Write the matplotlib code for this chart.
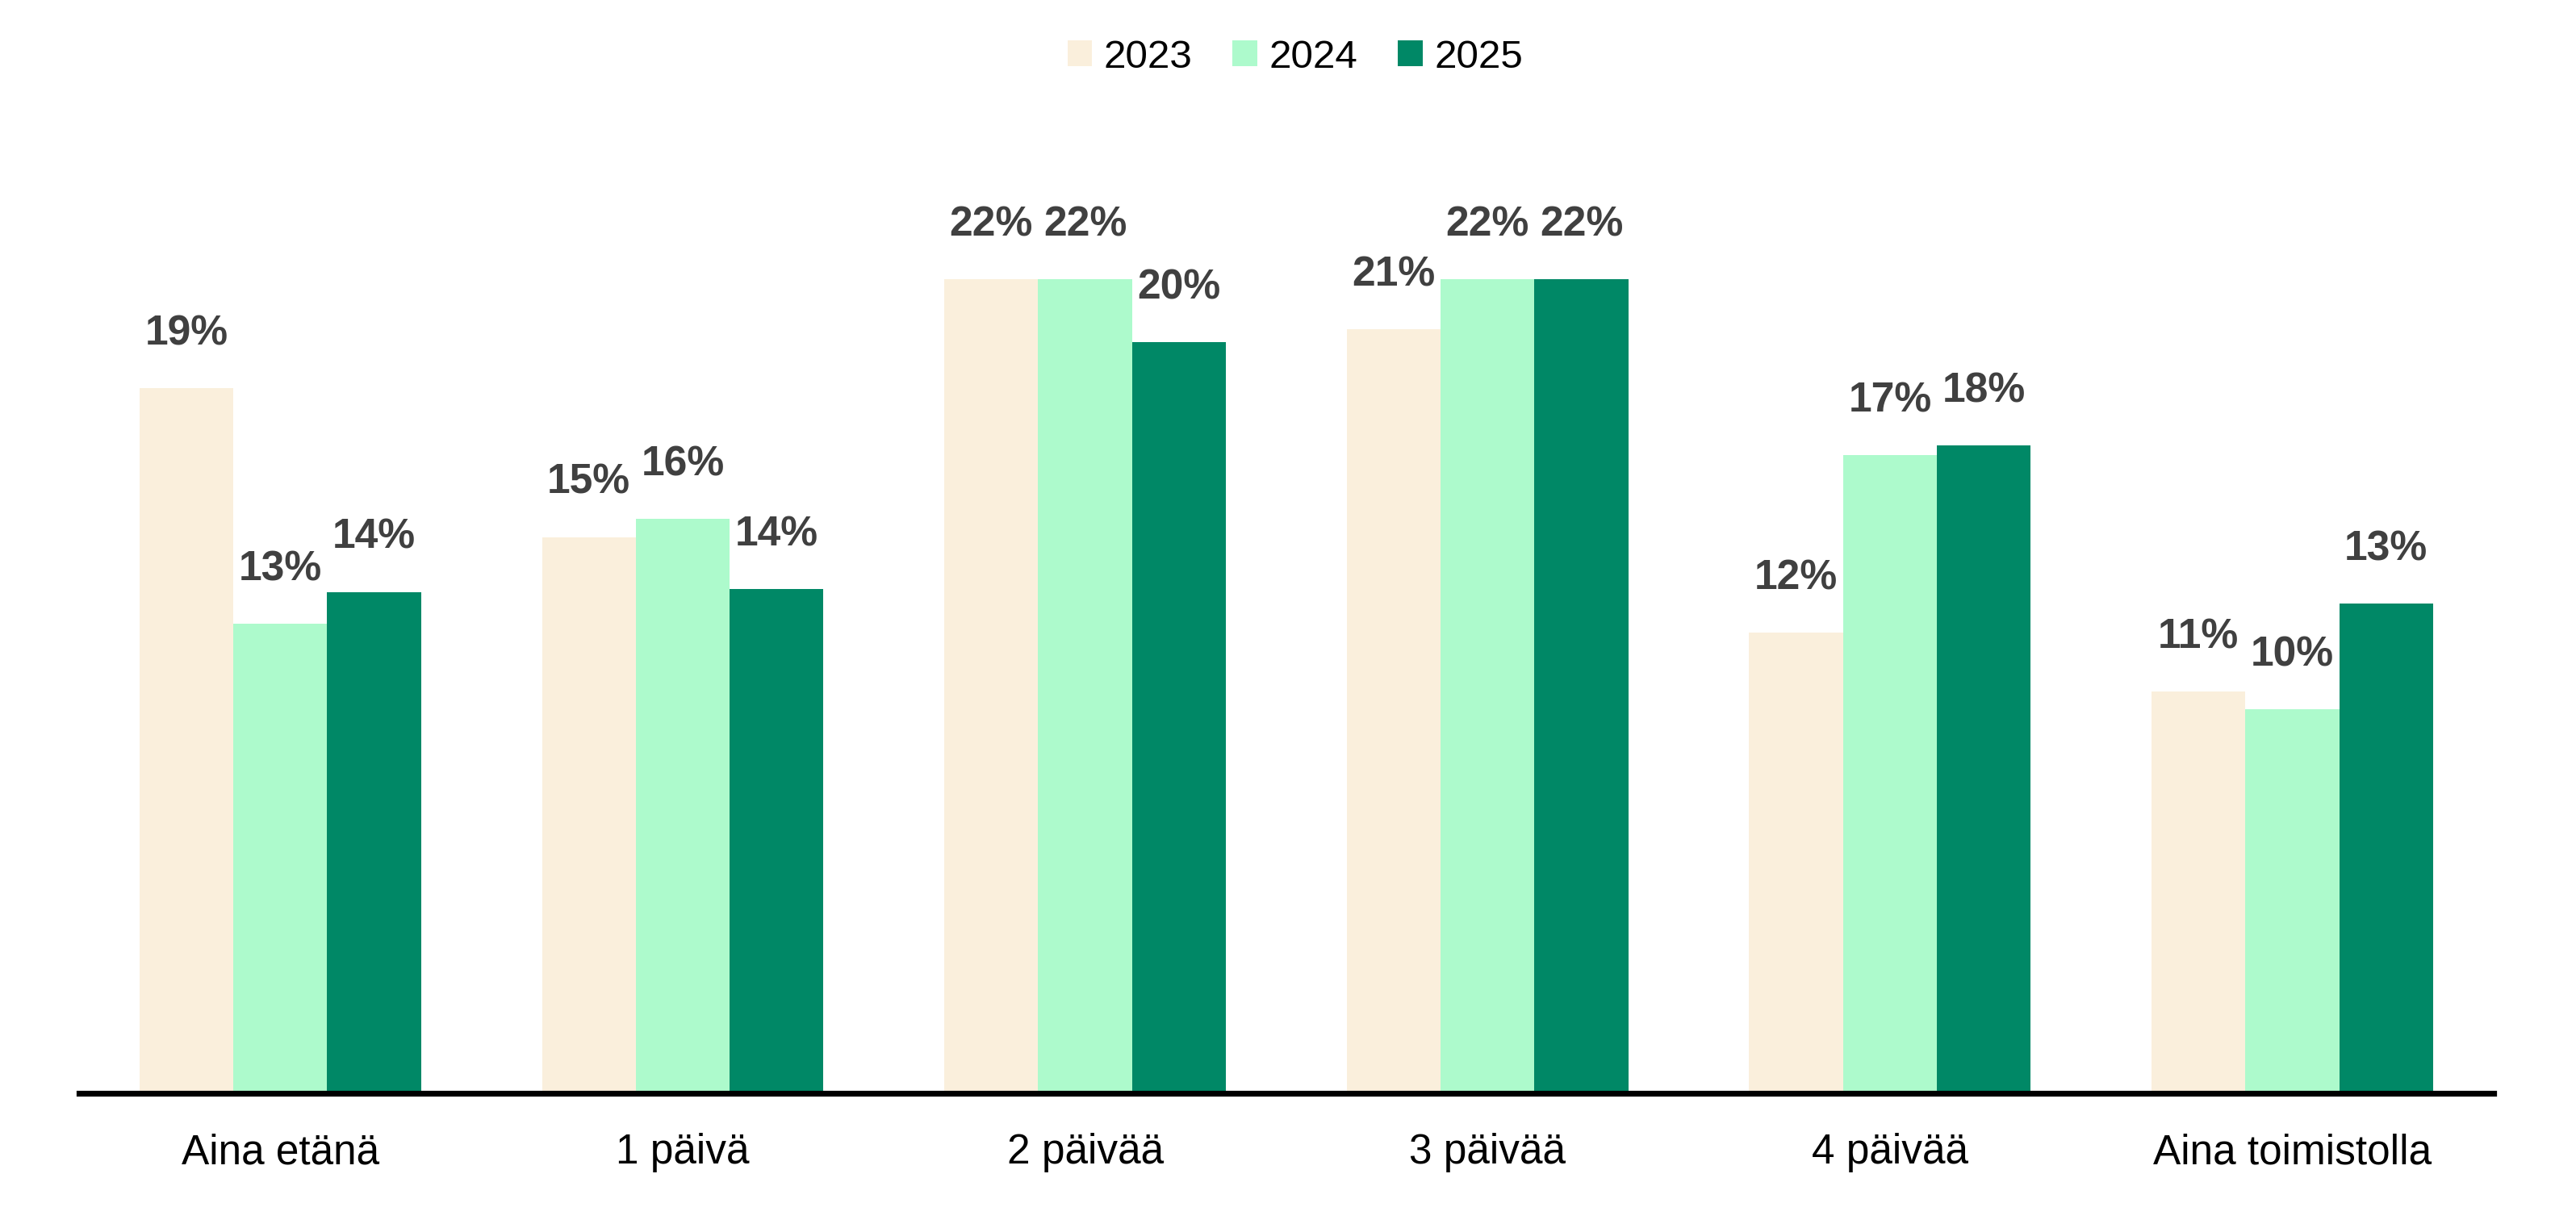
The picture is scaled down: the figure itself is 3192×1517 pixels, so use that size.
import numpy as np
import matplotlib
matplotlib.use("Agg")
from matplotlib import pyplot as plt

plt.rcParams['font.family'] = ['Liberation Sans', 'DejaVu Sans']

categories = ['Aina etänä', '1 päivä', '2 päivää', '3 päivää', '4 päivää',
              'Aina toimistolla']
years = ['2023', '2024', '2025']

# bar heights (percent), labels as printed
vals_2023 = [19.06, 15.03, 22.0, 20.65, 12.45, 10.86]
vals_2024 = [12.69, 15.53, 22.0, 22.0, 17.25, 10.38]
vals_2025 = [13.56, 13.63, 20.3, 22.0, 17.51, 13.24]
labels_2023 = ['19%', '15%', '22%', '21%', '12%', '11%']
labels_2024 = ['13%', '16%', '22%', '22%', '17%', '10%']
labels_2025 = ['14%', '14%', '20%', '22%', '18%', '13%']

colors = ['#FAEFDC', '#ADFACC', '#008866']

series = [vals_2023, vals_2024, vals_2025]
labels = [labels_2023, labels_2024, labels_2025]

fig = plt.figure(figsize=(15.96, 7.585), dpi=200)
ax = fig.add_axes([0.0307, 0.1065, 0.9373, 0.7558])

x = np.arange(len(categories))
width = 0.2332

for i, (vals, labs) in enumerate(zip(series, labels)):
    pos = x + (i - 1) * width
    ax.bar(pos, vals, width=width, color=colors[i], label=years[i],
           linewidth=0)
    # value labels above each bar
    for px, v, lab in zip(pos, vals, labs):
        ax.annotate(lab, (px, v), xytext=(0, 19.5), textcoords='offset points',
                    ha='center', va='baseline', fontsize=18.6,
                    fontweight='bold', color='#404040')

ax.set_xlim(-0.5, len(categories) - 0.5)
ax.set_ylim(0, 25)
ax.set_xticks(x)
ax.set_xticklabels(categories, fontsize=18.5, color='black')
ax.tick_params(axis='x', length=0, pad=17.5)
ax.set_yticks([])
for s in ['top', 'right', 'left']:
    ax.spines[s].set_visible(False)
ax.spines['bottom'].set_linewidth(2.6)
ax.spines['bottom'].set_color('black')

fig.legend(loc='center', bbox_to_anchor=(1605 / 3192, 1 - 71 / 1517),
           ncol=3, frameon=False, fontsize=17.8, handlelength=0.62,
           handleheight=0.62, handletextpad=0.3, columnspacing=1.0,
           borderaxespad=0)

plt.savefig('out.png', dpi=200)
